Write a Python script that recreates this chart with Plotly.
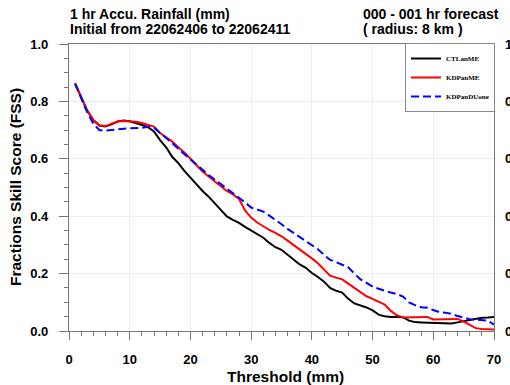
import plotly.graph_objects as go

threshold = list(range(1, 71))

ctlanme = [0.862, 0.815, 0.768, 0.735, 0.716, 0.713, 0.720, 0.730, 0.733, 0.731,
           0.725, 0.718, 0.710, 0.695, 0.665, 0.640, 0.607, 0.585, 0.558, 0.535,
           0.509, 0.488, 0.468, 0.445, 0.425, 0.399, 0.387, 0.377, 0.363, 0.350,
           0.337, 0.325, 0.307, 0.292, 0.283, 0.266, 0.248, 0.232, 0.220, 0.202,
           0.188, 0.172, 0.150, 0.140, 0.134, 0.112, 0.096, 0.090, 0.082, 0.072,
           0.057, 0.051, 0.049, 0.050, 0.048, 0.036, 0.031, 0.030, 0.029, 0.028,
           0.028, 0.027, 0.026, 0.030, 0.034, 0.036, 0.042, 0.046, 0.047, 0.049]

kdpanme = [0.862, 0.815, 0.768, 0.735, 0.716, 0.714, 0.722, 0.730, 0.732, 0.731,
           0.729, 0.725, 0.718, 0.712, 0.690, 0.676, 0.660, 0.640, 0.622, 0.600,
           0.578, 0.556, 0.538, 0.522, 0.505, 0.488, 0.476, 0.460, 0.420, 0.395,
           0.378, 0.364, 0.352, 0.342, 0.330, 0.315, 0.300, 0.282, 0.268, 0.253,
           0.236, 0.215, 0.193, 0.186, 0.180, 0.165, 0.150, 0.136, 0.121, 0.112,
           0.103, 0.092, 0.070, 0.055, 0.047, 0.048, 0.048, 0.049, 0.049, 0.040,
           0.040, 0.041, 0.042, 0.042, 0.033, 0.020, 0.010, 0.007, 0.006, 0.005]

kdpanduone = [0.862, 0.812, 0.762, 0.722, 0.700, 0.698, 0.701, 0.703, 0.705, 0.706,
              0.707, 0.708, 0.712, 0.708, 0.690, 0.674, 0.655, 0.635, 0.616, 0.598,
              0.578, 0.562, 0.543, 0.528, 0.512, 0.497, 0.480, 0.466, 0.448, 0.430,
              0.422, 0.416, 0.402, 0.388, 0.372, 0.356, 0.342, 0.330, 0.315, 0.302,
              0.285, 0.265, 0.248, 0.240, 0.232, 0.222, 0.200, 0.180, 0.168, 0.155,
              0.147, 0.140, 0.134, 0.129, 0.120, 0.100, 0.090, 0.083, 0.081, 0.073,
              0.066, 0.064, 0.060, 0.052, 0.046, 0.041, 0.040, 0.039, 0.036, 0.022]

series_names = ["CTLanME", "KDPanME", "KDPanDUone"]
x_ticks = [0, 10, 20, 30, 40, 50, 60, 70]
x_ticklabels = ["0", "10", "20", "30", "40", "50", "60", "70"]
y_ticks = [0.0, 0.2, 0.4, 0.6, 0.8, 1.0]
y_ticklabels = ["0.0", "0.2", "0.4", "0.6", "0.8", "1.0"]

fig = go.Figure()
fig.add_trace(go.Scatter(x=threshold, y=ctlanme, mode="lines", name=series_names[0],
                         line=dict(color="black", width=2)))
fig.add_trace(go.Scatter(x=threshold, y=kdpanme, mode="lines", name=series_names[1],
                         line=dict(color="#ff0000", width=2)))
fig.add_trace(go.Scatter(x=threshold, y=kdpanduone, mode="lines", name=series_names[2],
                         line=dict(color="#0000ff", width=2, dash="8px,4px")))
# invisible trace to carry the right-hand axis labels
fig.add_trace(go.Scatter(x=[threshold[0]], y=[ctlanme[0]], yaxis="y2", mode="lines",
                         showlegend=False, hoverinfo="skip", line=dict(width=0),
                         opacity=0))

axis_col = "#777777"
tick_font = dict(family="Liberation Sans", size=13, color="black")

fig.update_layout(
    width=510, height=385,
    margin=dict(l=69, r=16, t=44, b=53.5, autoexpand=False),
    paper_bgcolor="white", plot_bgcolor="white",
    xaxis=dict(range=[0, 70], tickvals=x_ticks,
               ticktext=["<b>%s</b>" % t for t in x_ticklabels], ticks="outside",
               ticklen=8, tickcolor=axis_col, tickwidth=1.2, showline=True,
               linecolor=axis_col, linewidth=1.2, mirror=True, showgrid=True,
               gridcolor="#eeeeee", zeroline=False, tickfont=tick_font,
               ticklabelstandoff=8, automargin=False,
               minor=dict(dtick=2, ticks="outside", ticklen=4, tickcolor=axis_col,
                          tickwidth=1, showgrid=False)),
    yaxis=dict(range=[0, 1], tickvals=y_ticks,
               ticktext=["<b>%s</b>" % t for t in y_ticklabels], ticks="outside",
               ticklen=9, tickcolor=axis_col, tickwidth=1.2, showline=True,
               linecolor=axis_col, linewidth=1.2, mirror=True, showgrid=True,
               gridcolor="#eeeeee", zeroline=False, tickfont=tick_font,
               ticklabelstandoff=8, automargin=False,
               minor=dict(dtick=0.05, ticks="outside", ticklen=4, tickcolor=axis_col,
                          tickwidth=1, showgrid=False)),
    yaxis2=dict(range=[0, 1], overlaying="y", side="right", tickvals=y_ticks,
                ticktext=["<b>%s</b>" % t for t in y_ticklabels], ticks="",
                showgrid=False, zeroline=False, showline=False, tickfont=tick_font,
                ticklabelstandoff=10, automargin=False),
    legend=dict(x=(405 - 69) / 425, y=1.0 + 1 / 288, xanchor="left", yanchor="top",
                bgcolor="white", bordercolor="#888888", borderwidth=1,
                font=dict(family="Liberation Serif", size=7, color="black",
                          weight="bold"),
                itemwidth=30, tracegroupgap=0),
    showlegend=True,
)

title_font = dict(family="Liberation Sans", size=14, color="black")
fig.add_annotation(text="<b>1 hr Accu. Rainfall (mm)</b>", xref="paper", yref="paper",
                   x=-0.002, y=1.0 + (44 - 23.5) / 288, xanchor="left", yanchor="bottom",
                   showarrow=False, font=title_font)
fig.add_annotation(text="<b>Initial from 22062406 to 22062411</b>", xref="paper",
                   yref="paper", x=-0.002, y=1.0 + (44 - 38.5) / 288, xanchor="left",
                   yanchor="bottom", showarrow=False, font=title_font)
fig.add_annotation(text="<b>000 - 001 hr forecast</b>", xref="paper", yref="paper",
                   x=(361 - 69) / 425, y=1.0 + (44 - 23.5) / 288, xanchor="left",
                   yanchor="bottom", showarrow=False, font=title_font)
fig.add_annotation(text="<b>( radius: 8 km )</b>", xref="paper", yref="paper",
                   x=(361 - 69) / 425, y=1.0 + (44 - 38.5) / 288, xanchor="left",
                   yanchor="bottom", showarrow=False, font=title_font)
fig.add_annotation(text="<b>Fractions Skill Score (FSS)</b>", xref="paper", yref="paper",
                   x=(15 - 69) / 425, y=(331.5 - 187) / 288, xanchor="center",
                   yanchor="middle", textangle=-90, showarrow=False,
                   font=dict(family="Liberation Sans", size=15.5, color="black"))
fig.add_annotation(text="<b>Threshold (mm)</b>", xref="paper", yref="paper",
                   x=(285 - 69) / 425, y=(331.5 - 377) / 288, xanchor="center",
                   yanchor="middle", showarrow=False,
                   font=dict(family="Liberation Sans", size=15.5, color="black"))

fig.write_html("out.html")
